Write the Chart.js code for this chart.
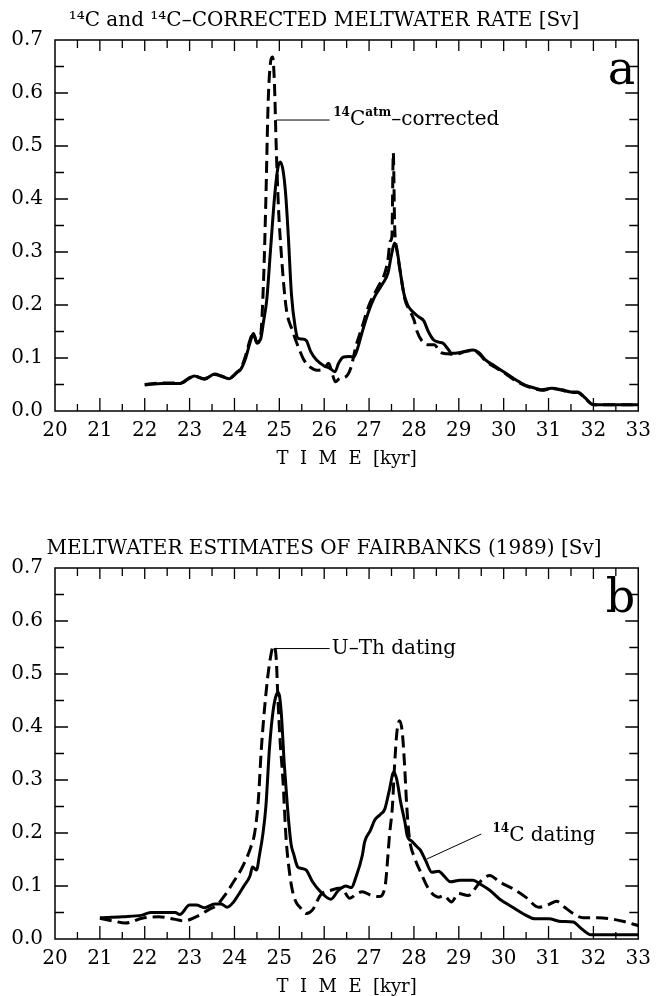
<!DOCTYPE html>
<html>
<head>
<meta charset="utf-8">
<script src="https://cdn.jsdelivr.net/npm/chart.js@4.4.1/dist/chart.umd.min.js"></script>
<style>
	body { margin: 0; background: #fff; overflow: hidden; }
	canvas { position: absolute; left: 0; }
	#chart-a { top: 0; }
	#chart-b { top: 528px; }
</style>
</head>
<body>
<canvas id="chart-a" width="659" height="470"></canvas>
<canvas id="chart-b" width="659" height="470"></canvas>
<script>
'use strict';

// [time kyr, meltwater Sv]
const c14Rate = [
	[22.0, 0.049], [22.4, 0.052], [22.8, 0.052], [23.0, 0.062], [23.1, 0.066], [23.33, 0.06],
	[23.56, 0.07], [23.7, 0.066], [23.88, 0.061], [24.05, 0.072], [24.15, 0.08], [24.25, 0.1],
	[24.35, 0.13], [24.42, 0.146], [24.5, 0.13], [24.58, 0.135], [24.65, 0.17], [24.72, 0.21],
	[24.8, 0.3], [24.9, 0.41], [24.97, 0.46], [25.02, 0.47], [25.08, 0.455], [25.14, 0.41],
	[25.2, 0.33], [25.27, 0.22], [25.35, 0.16], [25.42, 0.137], [25.5, 0.136], [25.6, 0.133],
	[25.7, 0.112], [25.83, 0.096], [26.0, 0.085], [26.12, 0.081], [26.24, 0.074], [26.32, 0.09],
	[26.43, 0.102], [26.55, 0.103], [26.66, 0.102], [26.75, 0.12], [26.84, 0.147], [27.0, 0.19],
	[27.12, 0.215], [27.3, 0.24], [27.42, 0.26], [27.5, 0.295], [27.57, 0.317], [27.63, 0.3],
	[27.7, 0.26], [27.78, 0.22], [27.86, 0.2], [27.94, 0.19], [28.1, 0.178], [28.22, 0.17],
	[28.32, 0.15], [28.44, 0.134], [28.55, 0.13], [28.65, 0.128], [28.75, 0.118], [28.84, 0.109],
	[29.0, 0.11], [29.15, 0.113], [29.32, 0.115], [29.45, 0.11], [29.6, 0.096], [29.8, 0.085],
	[30.05, 0.071], [30.25, 0.06], [30.48, 0.049], [30.7, 0.043], [30.85, 0.04], [31.07, 0.043],
	[31.3, 0.04], [31.5, 0.036], [31.65, 0.036], [31.8, 0.026], [32.0, 0.012], [32.5, 0.012],
	[33.0, 0.012],
];

const atmCorrected = [
	[22.0, 0.05], [22.4, 0.053], [22.8, 0.053], [23.0, 0.063], [23.1, 0.066], [23.33, 0.061],
	[23.56, 0.069], [23.7, 0.066], [23.88, 0.062], [24.05, 0.073], [24.15, 0.082], [24.25, 0.105],
	[24.35, 0.135], [24.42, 0.147], [24.5, 0.128], [24.58, 0.14], [24.65, 0.25], [24.7, 0.4],
	[24.75, 0.58], [24.8, 0.655], [24.85, 0.668], [24.89, 0.62], [24.93, 0.5], [24.98, 0.385],
	[25.05, 0.29], [25.15, 0.196], [25.3, 0.15], [25.45, 0.115], [25.55, 0.096], [25.7, 0.082],
	[25.83, 0.077], [26.0, 0.08], [26.1, 0.09], [26.18, 0.07], [26.25, 0.055], [26.35, 0.062],
	[26.47, 0.064], [26.6, 0.083], [26.7, 0.12], [26.85, 0.16], [27.0, 0.2], [27.2, 0.234],
	[27.35, 0.26], [27.42, 0.285], [27.47, 0.32], [27.51, 0.33], [27.54, 0.487], [27.57, 0.35],
	[27.62, 0.305], [27.7, 0.26], [27.8, 0.21], [27.9, 0.19], [28.0, 0.172], [28.07, 0.15],
	[28.2, 0.13], [28.3, 0.125], [28.45, 0.125], [28.6, 0.11], [28.75, 0.108], [28.9, 0.107],
	[29.0, 0.108], [29.15, 0.112], [29.32, 0.114], [29.45, 0.108], [29.6, 0.094], [29.8, 0.083],
	[30.05, 0.07], [30.25, 0.058], [30.48, 0.048], [30.7, 0.042], [30.85, 0.039], [31.07, 0.042],
	[31.3, 0.039], [31.5, 0.035], [31.65, 0.035], [31.8, 0.025], [32.0, 0.012], [32.5, 0.012],
	[33.0, 0.012],
];

const fairbanksC14 = [
	[21.0, 0.04], [21.5, 0.042], [21.94, 0.045], [22.13, 0.05], [22.68, 0.05], [22.78, 0.046],
	[23.0, 0.064], [23.15, 0.064], [23.33, 0.059], [23.56, 0.066], [23.7, 0.066], [23.84, 0.06],
	[23.98, 0.07], [24.1, 0.085], [24.21, 0.1], [24.35, 0.12], [24.4, 0.136], [24.49, 0.13],
	[24.56, 0.16], [24.63, 0.196], [24.7, 0.25], [24.78, 0.36], [24.86, 0.43], [24.93, 0.46],
	[24.98, 0.465], [25.04, 0.43], [25.11, 0.33], [25.18, 0.25], [25.26, 0.18], [25.32, 0.16],
	[25.41, 0.136], [25.5, 0.133], [25.6, 0.13], [25.74, 0.108], [25.92, 0.089], [26.15, 0.075],
	[26.3, 0.09], [26.38, 0.096], [26.48, 0.1], [26.61, 0.097], [26.7, 0.115], [26.85, 0.158],
	[26.9, 0.183], [27.03, 0.205], [27.13, 0.225], [27.25, 0.235], [27.35, 0.245], [27.45, 0.28],
	[27.55, 0.315], [27.62, 0.3], [27.7, 0.26], [27.8, 0.22], [27.85, 0.195], [27.96, 0.184],
	[28.07, 0.174], [28.14, 0.168], [28.26, 0.148], [28.4, 0.126], [28.55, 0.128], [28.68, 0.118],
	[28.81, 0.108], [29.03, 0.111], [29.32, 0.111], [29.47, 0.104], [29.69, 0.092], [29.9, 0.076],
	[30.2, 0.06], [30.49, 0.045], [30.7, 0.038], [31.0, 0.038], [31.29, 0.033], [31.55, 0.032],
	[31.7, 0.022], [31.88, 0.01], [31.95, 0.008], [32.5, 0.008], [33.0, 0.008],
];

const fairbanksUTh = [
	[21.0, 0.039], [21.3, 0.034], [21.57, 0.03], [21.94, 0.039], [22.31, 0.042], [22.68, 0.037],
	[22.87, 0.034], [23.15, 0.042], [23.42, 0.055], [23.61, 0.064], [23.79, 0.083], [23.98, 0.108],
	[24.16, 0.133], [24.35, 0.17], [24.45, 0.2], [24.53, 0.26], [24.6, 0.36], [24.71, 0.47],
	[24.8, 0.53], [24.87, 0.553], [24.93, 0.53], [24.97, 0.45], [25.02, 0.37], [25.08, 0.3],
	[25.15, 0.19], [25.22, 0.13], [25.28, 0.096], [25.37, 0.07], [25.46, 0.06], [25.6, 0.048],
	[25.74, 0.055], [25.92, 0.083], [26.15, 0.092], [26.38, 0.096], [26.57, 0.077], [26.72, 0.085],
	[26.85, 0.089], [27.03, 0.083], [27.22, 0.08], [27.35, 0.096], [27.46, 0.2], [27.52, 0.25],
	[27.57, 0.33], [27.62, 0.39], [27.68, 0.412], [27.74, 0.39], [27.79, 0.33], [27.84, 0.25],
	[27.9, 0.19], [28.02, 0.152], [28.15, 0.126], [28.26, 0.105], [28.37, 0.089], [28.55, 0.079],
	[28.66, 0.082], [28.84, 0.07], [28.99, 0.086], [29.21, 0.082], [29.36, 0.095], [29.5, 0.11],
	[29.69, 0.12], [29.9, 0.108], [30.2, 0.095], [30.49, 0.079], [30.78, 0.06], [31.0, 0.065],
	[31.18, 0.071], [31.36, 0.06], [31.55, 0.048], [31.77, 0.04], [32.1, 0.04], [32.39, 0.038],
	[32.68, 0.033], [33.0, 0.025],
];

const timeRange = [20, 33];
const rateRange = [0, 0.7];

const FONT = "'DejaVu Serif', 'Liberation Serif', serif";

Chart.defaults.font.family = FONT;
Chart.defaults.color = '#000';

function toPoints(pairs) {
	return pairs.map(([t, v]) => ({ x: t, y: v }));
}

function lineSet(label, pairs, dashed) {
	return {
		label: label,
		data: toPoints(pairs),
		borderColor: '#000',
		borderWidth: 3,
		borderDash: dashed ? [12, 6] : [],
		pointRadius: 0,
		fill: false,
		cubicInterpolationMode: 'monotone',
	};
}

// frame, inward ticks, panel letter and the curve labels
const panelMarks = {
	id: 'panelMarks',
	afterDatasetsDraw(chart, args, opts) {
		const { ctx, chartArea: a } = chart;
		const x = chart.scales.x;
		const y = chart.scales.y;
		ctx.save();
		ctx.strokeStyle = '#000';
		ctx.fillStyle = '#000';
		ctx.setLineDash([]);
		ctx.lineWidth = 1.5;
		ctx.strokeRect(a.left, a.top, a.right - a.left, a.bottom - a.top);

		ctx.lineWidth = 1.3;
		ctx.beginPath();
		for (let i = 1; i < 26; i++) {
			const px = x.getPixelForValue(timeRange[0] + i * 0.5);
			const len = i % 2 === 0 ? 13 : 7;
			ctx.moveTo(px, a.bottom);
			ctx.lineTo(px, a.bottom - len);
			ctx.moveTo(px, a.top);
			ctx.lineTo(px, a.top + (i % 2 === 0 ? 11 : 8));
		}
		for (let i = 1; i < 14; i++) {
			const py = y.getPixelForValue(i * 0.05);
			const len = i % 2 === 0 ? 13 : 9;
			ctx.moveTo(a.left, py);
			ctx.lineTo(a.left + len, py);
			ctx.moveTo(a.right, py);
			ctx.lineTo(a.right - len, py);
		}
		ctx.stroke();

		ctx.font = '46px ' + FONT;
		ctx.textAlign = 'right';
		ctx.textBaseline = 'alphabetic';
		ctx.fillText(opts.letter, a.right - 3, a.top + 44);

		opts.notes.forEach((note) => {
			ctx.lineWidth = 1;
			ctx.beginPath();
			ctx.moveTo(x.getPixelForValue(note.from[0]), y.getPixelForValue(note.from[1]));
			ctx.lineTo(x.getPixelForValue(note.to[0]), y.getPixelForValue(note.to[1]));
			ctx.stroke();
			let px = x.getPixelForValue(note.at[0]);
			const py = y.getPixelForValue(note.at[1]);
			ctx.textAlign = 'left';
			ctx.textBaseline = 'middle';
			note.parts.forEach((part) => {
				ctx.font = part.sup ? 'bold 12px ' + FONT : '20px ' + FONT;
				ctx.fillText(part.text, px, part.sup ? py - 7 : py);
				px += ctx.measureText(part.text).width;
			});
		});
		ctx.restore();
	},
};

function buildScales() {
	return {
		x: {
			type: 'linear',
			min: timeRange[0],
			max: timeRange[1],
			afterFit: (scale) => { scale.height = 59; },
			grid: { display: false, drawTicks: false },
			border: { display: false },
			ticks: {
				stepSize: 1,
				padding: 8,
				autoSkip: false,
				maxRotation: 0,
				font: { size: 20 },
			},
			title: {
				display: true,
				text: 'T  I  M  E  [kyr]',
				font: { size: 18 },
				padding: 0,
			},
		},
		y: {
			min: rateRange[0],
			max: rateRange[1],
			afterFit: (scale) => { scale.width = 55; },
			grid: { display: false, drawTicks: false },
			border: { display: false },
			ticks: {
				stepSize: 0.1,
				padding: 12,
				font: { size: 20 },
				callback: (value) => value.toFixed(1),
			},
		},
	};
}

function makePanel(id, title, datasets, letter, notes) {
	const ctx = document.querySelector(id).getContext('2d');
	return new Chart(ctx, {
		type: 'line',
		data: { datasets: datasets },
		options: {
			responsive: false,
			animation: false,
			devicePixelRatio: 1,
			layout: { padding: { left: 0, right: 11, top: 0, bottom: 0 } },
			scales: buildScales(),
			plugins: {
				legend: { display: false },
				tooltip: { enabled: false },
				title: {
					display: true,
					text: title,
					font: { size: 20, weight: 'normal' },
					padding: { top: 9, bottom: 7 },
				},
				panelMarks: { letter: letter, notes: notes },
			},
		},
		plugins: [panelMarks],
	});
}

makePanel('#chart-a', '¹⁴C and ¹⁴C–CORRECTED MELTWATER RATE [Sv]', [
	lineSet('14C', c14Rate, false),
	lineSet('14C atm corrected', atmCorrected, true),
], 'a', [
	{
		from: [24.93, 0.549], to: [26.12, 0.549], at: [26.2, 0.549],
		parts: [{ text: '14', sup: true }, { text: 'C' }, { text: 'atm', sup: true }, { text: '–corrected' }],
	},
]);

makePanel('#chart-b', 'MELTWATER ESTIMATES OF FAIRBANKS (1989) [Sv]', [
	lineSet('14C dating', fairbanksC14, false),
	lineSet('U-Th dating', fairbanksUTh, true),
], 'b', [
	{
		from: [24.9, 0.548], to: [26.12, 0.548], at: [26.17, 0.548],
		parts: [{ text: 'U–Th dating' }],
	},
	{
		from: [28.29, 0.151], to: [29.5, 0.198], at: [29.75, 0.195],
		parts: [{ text: '14', sup: true }, { text: 'C dating' }],
	},
]);
</script>
</body>
</html>
